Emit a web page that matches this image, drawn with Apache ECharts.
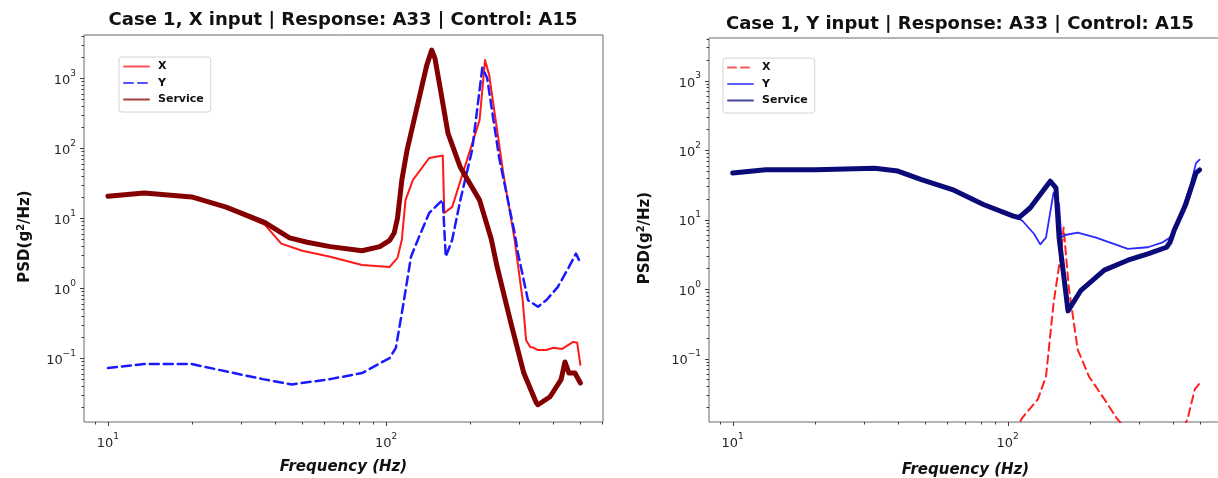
<!DOCTYPE html>
<html><head><meta charset="utf-8">
<script src="https://cdn.jsdelivr.net/npm/echarts@6/dist/echarts.min.js"></script>
<style>html,body{margin:0;padding:0;background:#fff}#c{width:1218px;height:478px}</style>
</head><body><div id="c"></div>
<script>
// ---------- data ----------
// Left panel: Case 1, X input
const leftXFreq = [10, 13.5, 20, 26.6, 36.7, 42, 50, 63, 82, 103, 110, 114, 117.5, 125, 143, 157, 160, 162, 173, 197, 217, 227, 235, 264, 290, 310, 319, 330, 340, 352, 377, 400, 430, 471, 487, 500];
const leftXVal  = [20, 22.3, 19.8, 14, 8.0, 4.3, 3.4, 2.8, 2.13, 2.0, 2.7, 4.9, 18, 35, 72, 77, 78, 11.8, 14.4, 74, 250, 1800, 1100, 44, 4.9, 0.67, 0.18, 0.144, 0.14, 0.13, 0.13, 0.14, 0.135, 0.17, 0.165, 0.08];

const leftYFreq = [10, 13.5, 20, 28.4, 36, 45.9, 63, 82, 103, 108.5, 115, 123, 131, 143, 157, 160, 164, 173, 185, 204, 222, 231, 255, 290, 298, 324, 352, 377, 415, 455, 482, 500];
const leftYVal  = [0.072, 0.082, 0.082, 0.061, 0.05, 0.042, 0.05, 0.061, 0.1, 0.14, 0.54, 2.8, 5.2, 11.8, 17, 18, 2.8, 4.9, 18, 93, 1400, 1000, 74, 6.1, 3.2, 0.67, 0.54, 0.67, 1.04, 2.0, 3.1, 2.3];

const leftSFreq = [10, 13.5, 20, 26.6, 36.7, 45, 52, 63, 82, 95, 103, 107, 110, 114, 119, 131, 140, 146, 150, 157, 167, 185, 217, 239, 251, 281, 313, 347, 352, 389, 426, 440, 455, 478, 500];
const leftSVal  = [20.5, 22.7, 20, 14.3, 8.6, 5.2, 4.5, 3.9, 3.4, 3.9, 4.8, 6.1, 10, 35, 93, 480, 1500, 2500, 1900, 675, 163, 53, 18, 5.0, 2.0, 0.32, 0.061, 0.023, 0.0215, 0.028, 0.049, 0.088, 0.061, 0.061, 0.044];

// Right panel: Case 1, Y input
const rightXFreq = [100, 113, 129, 138, 147, 157, 160, 167, 180, 198, 225, 249, 280, 330, 400, 453, 480, 500];
const rightXVal  = [0.006, 0.0139, 0.026, 0.055, 0.62, 3.6, 7.7, 1.07, 0.134, 0.055, 0.026, 0.014, 0.008, 0.004, 0.004, 0.014, 0.036, 0.044];

const rightYFreq = [10, 13.2, 20, 32.8, 39.9, 48.6, 63, 81.7, 105, 113, 125, 131.5, 138, 147, 154, 157, 162, 180, 210, 274, 324, 367, 390, 418, 464, 485, 500];
const rightYVal  = [46.9, 52, 52, 55, 50, 37.6, 27, 16.5, 11.2, 9.7, 6.2, 4.4, 5.5, 24.2, 16.5, 5.5, 6.0, 6.5, 5.5, 3.8, 4.0, 4.7, 5.5, 9.7, 32, 65, 73];

const rightSFreq = [10, 13.2, 20, 32.8, 39.9, 48.6, 63, 81.7, 105, 110, 121, 143, 150, 154, 162, 166, 185, 225, 274, 324, 379, 390, 404, 445, 485, 500];
const rightSVal  = [46.9, 52, 52, 55, 50, 37.6, 27, 16.5, 11.2, 10.7, 14.8, 35.7, 28.6, 5.5, 1.07, 0.485, 0.96, 1.87, 2.6, 3.2, 4.0, 4.7, 7.0, 16.5, 47, 52];

// axis ranges and ticks
const X_MIN = 8.2, X_MAX = 603, Y_MIN = 0.0122, Y_MAX = 4110;
const xMajorTicks = [10, 100];
const xMinorTicks = [9, 20, 30, 40, 50, 60, 70, 80, 90, 200, 300, 400, 500, 600];
const yMajorTicks = [0.1, 1, 10, 100, 1000];
const yMinorTicks = [0.02, 0.03, 0.04, 0.05, 0.06, 0.07, 0.08, 0.09,
  0.2, 0.3, 0.4, 0.5, 0.6, 0.7, 0.8, 0.9, 2, 3, 4, 5, 6, 7, 8, 9,
  20, 30, 40, 50, 60, 70, 80, 90, 200, 300, 400, 500, 600, 700, 800, 900, 2000, 3000, 4000];
const titles = ['Case 1, X input | Response: A33 | Control: A15', 'Case 1, Y input | Response: A33 | Control: A15'];

// ---------- chart ----------
const FONT = 'DejaVu Sans';
const pairs = (f, v) => f.map((x, i) => [x, v[i]]);
function powLabel(v) {
  const e = Math.log10(v); const r = Math.round(e);
  if (Math.abs(e - r) > 1e-6) return '';
  return '{b|10}{s|' + (r < 0 ? '\u2212' + (-r) : r) + '}';
}
const labelRich = {
  b: {fontFamily: FONT, fontSize: 13, color: '#262626', lineHeight: 18, verticalAlign: 'bottom'},
  s: {fontFamily: FONT, fontSize: 9, color: '#262626', lineHeight: 10, verticalAlign: 'top'}
};
function tickSeries(gi, axis, values, len) {
  return {
    type: 'custom', xAxisIndex: gi, yAxisIndex: gi, silent: true, clip: false, z: 5,
    data: values.map(v => axis === 'x' ? [v, Y_MIN] : [X_MIN, v]),
    renderItem: (params, api) => {
      const p = api.coord([api.value(0), api.value(1)]);
      const shape = axis === 'x'
        ? {x1: Math.round(p[0]) + 0.5, y1: p[1], x2: Math.round(p[0]) + 0.5, y2: p[1] + len}
        : {x1: p[0], y1: Math.round(p[1]) + 0.5, x2: p[0] - len, y2: Math.round(p[1]) + 0.5};
      return {type: 'line', shape, style: {stroke: '#3a3a3a', lineWidth: 1}};
    }
  };
}
function xAxisCfg(gi, gap) {
  return {
    type: 'log', logBase: 10, gridIndex: gi, min: X_MIN, max: X_MAX,
    axisLine: {show: false}, axisTick: {show: false}, splitLine: {show: false},
    axisLabel: {formatter: powLabel, rich: labelRich, margin: 10},
    name: 'Frequency (Hz)', nameLocation: 'middle', nameGap: gap,
    nameTextStyle: {fontFamily: FONT, fontWeight: 'bold', fontStyle: 'italic', fontSize: 15, color: '#111'}
  };
}
function yAxisCfg(gi, gap) {
  return {
    type: 'log', logBase: 10, gridIndex: gi, min: Y_MIN, max: Y_MAX,
    axisLine: {show: false}, axisTick: {show: false}, splitLine: {show: false},
    axisLabel: {formatter: powLabel, rich: labelRich, margin: 8},
    name: 'PSD(g{s|2}/Hz)', nameLocation: 'middle', nameGap: gap,
    nameTextStyle: {fontFamily: FONT, fontWeight: 'bold', fontSize: 15, color: '#111', lineHeight: 18, padding: [0, 16, 0, 0],
      rich: {s: {fontFamily: FONT, fontWeight: 'bold', fontSize: 10, color: '#111', lineHeight: 10, verticalAlign: 'top'}}}
  };
}
function legendCfg(names, left, top) {
  return {
    data: names, left, top, orient: 'vertical', itemWidth: 25, itemHeight: 12, itemGap: 5.5,
    padding: [4, 7, 7, 4], borderColor: '#d4d4d4', borderWidth: 1, borderRadius: 3, backgroundColor: '#fff',
    formatter: n => n.trim(),
    itemStyle: {color: 'transparent', borderColor: 'transparent', borderWidth: 0, opacity: 0},
    lineStyle: {opacity: 0.75},
    textStyle: {fontFamily: FONT, fontWeight: 'bold', fontSize: 11, color: '#111', padding: [0, 0, 0, 4]}
  };
}
function lineSeries(name, gi, data, color, width, dash, z) {
  return {
    name, type: 'line', xAxisIndex: gi, yAxisIndex: gi, data, symbol: 'none', z,
    lineStyle: {color, width, type: dash || 'solid', cap: 'round', join: 'round'},
    itemStyle: {color}, animation: false
  };
}

const chart = echarts.init(document.getElementById('c'));
chart.setOption({
  animation: false,
  backgroundColor: '#fff',
  title: [
    {text: titles[0], left: 343, top: 10, textAlign: 'center', padding: 0,
     textStyle: {fontFamily: FONT, fontWeight: 'bold', fontSize: 18, color: '#111', lineHeight: 20}},
    {text: titles[1], left: 960, top: 14, textAlign: 'center', padding: 0,
     textStyle: {fontFamily: FONT, fontWeight: 'bold', fontSize: 18, color: '#111', lineHeight: 20}}
  ],
  grid: [
    {left: 84, top: 35, width: 519, height: 387, show: true, borderColor: '#6a6a6a', borderWidth: 1,
     backgroundColor: 'transparent', outerBoundsMode: 'none', containLabel: false},
    {left: 709, top: 38, width: 513, height: 384, show: true, borderColor: '#6a6a6a', borderWidth: 1,
     backgroundColor: 'transparent', outerBoundsMode: 'none', containLabel: false}
  ],
  xAxis: [xAxisCfg(0, 38), xAxisCfg(1, 41)],
  yAxis: [yAxisCfg(0, 50), yAxisCfg(1, 55)],
  legend: [legendCfg(['X', 'Y', 'Service'], 119, 57), legendCfg(['X ', 'Y ', 'Service '], 723, 58)],
  series: [
    lineSeries('X', 0, pairs(leftXFreq, leftXVal), '#ff1a1a', 2, null, 2),
    lineSeries('Y', 0, pairs(leftYFreq, leftYVal), '#1a1aff', 2.5, [9, 5], 3),
    lineSeries('Service', 0, pairs(leftSFreq, leftSVal), '#840000', 5, null, 4),
    lineSeries('X ', 1, pairs(rightXFreq, rightXVal), '#ff2020', 2, [8, 5], 2),
    lineSeries('Y ', 1, pairs(rightYFreq, rightYVal), '#2a2aff', 1.8, null, 3),
    lineSeries('Service ', 1, pairs(rightSFreq, rightSVal), '#0a0a78', 5, null, 4),
    tickSeries(0, 'x', xMajorTicks, 4), tickSeries(0, 'x', xMinorTicks, 2.5),
    tickSeries(0, 'y', yMajorTicks, 4), tickSeries(0, 'y', yMinorTicks, 2.5),
    tickSeries(1, 'x', xMajorTicks, 4), tickSeries(1, 'x', xMinorTicks, 2.5),
    tickSeries(1, 'y', yMajorTicks, 4), tickSeries(1, 'y', yMinorTicks, 2.5)
  ]
});
</script>
</body></html>
